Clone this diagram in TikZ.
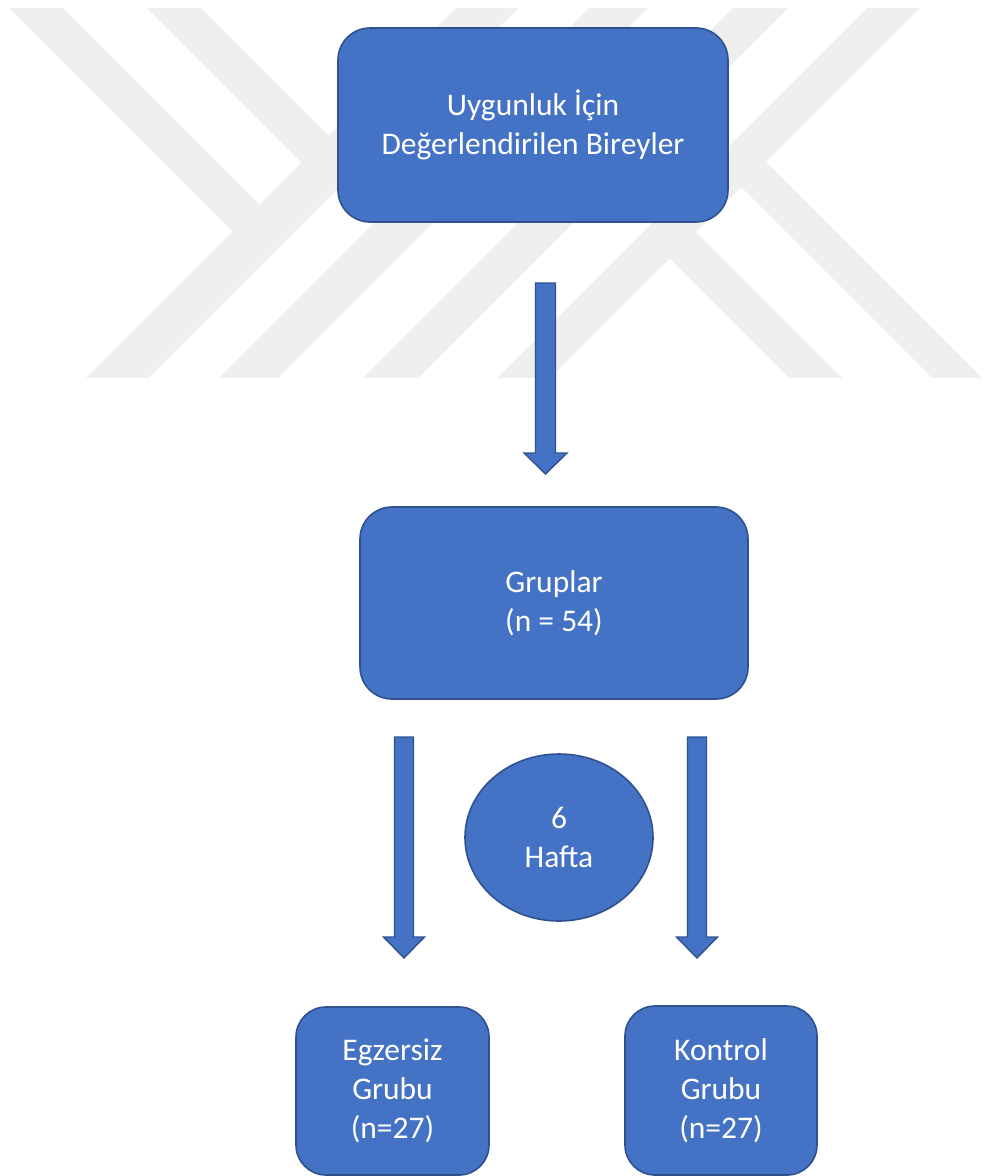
\documentclass[tikz,border=0pt]{standalone}
\usepackage{fontspec}
\setmainfont{Carlito}
\usetikzlibrary{shapes.geometric}
\definecolor{boxfill}{HTML}{4472C4}
\definecolor{boxline}{HTML}{2F528F}
\definecolor{wm}{RGB}{239,239,239}
\begin{document}
\begin{tikzpicture}[x=1pt,y=-1pt,
  box/.style={draw=boxline, line width=1.6pt, fill=boxfill, rounded corners=32pt,
    text=white, align=center, font=\fontsize{31.5}{39}\selectfont, inner sep=0pt},
  oval/.style={ellipse, draw=boxline, line width=1.6pt, fill=boxfill,
    text=white, align=center, font=\fontsize{31.5}{39}\selectfont, inner sep=0pt},
  blockarrow/.style={fill=boxfill, draw=boxline, line width=1.4pt, line join=miter},
  band/.style={fill=wm, draw=none}]
\fill[white] (0,0) rectangle (984,1176);
\useasboundingbox (0,0) rectangle (984,1176);
% watermark
\path[band] (9,8) -- (63,8) -- (270,215) -- (243,242) -- cycle;
\path[band] (147,8) -- (201,8) -- (339,146) -- (312,173) -- cycle;
\path[band] (456,8) -- (518,8) -- (148,378) -- (86,378) -- cycle;
\path[band] (589,8) -- (648,8) -- (278,378) -- (219,378) -- cycle;
\path[band] (733,8) -- (788,8) -- (418,378) -- (363,378) -- cycle;
\path[band] (867,8) -- (920,8) -- (550,378) -- (497,378) -- cycle;
\path[band] (731,177) -- (756,152) -- (982,378) -- (932,378) -- cycle;
\path[band] (659.5,248.5) -- (686,222) -- (842,378) -- (789,378) -- cycle;
% nodes
\node[box, minimum width=390pt, minimum height=194pt] (top) at (533,125)
  {Uygunluk İçin\\Değerlendirilen Bireyler};
\node[box, minimum width=388pt, minimum height=192pt] (grp) at (554,603)
  {Gruplar\\(n = 54)};
\node[oval, minimum width=188pt, minimum height=167pt] (wk) at (559,837.5)
  {6\\Hafta};
\node[box, rounded corners=30pt, minimum width=193pt, minimum height=168pt] (ex) at (392.5,1091)
  {Egzersiz\\Grubu\\(n=27)};
\node[box, rounded corners=30pt, minimum width=192pt, minimum height=169pt] (ct) at (721,1090.5)
  {Kontrol\\Grubu\\(n=27)};
% block arrows
\draw[blockarrow] (535.5,283) -- (555.5,283) -- (555.5,453) -- (567,453) -- (545.5,474)
  -- (524,453) -- (535.5,453) -- cycle;
\draw[blockarrow] (394.5,737) -- (413.5,737) -- (413.5,937) -- (424.5,937) -- (404,958)
  -- (383.5,937) -- (394.5,937) -- cycle;
\draw[blockarrow] (687.5,737) -- (706.5,737) -- (706.5,937) -- (717.5,937) -- (697,958)
  -- (676.5,937) -- (687.5,937) -- cycle;
\end{tikzpicture}
\end{document}
